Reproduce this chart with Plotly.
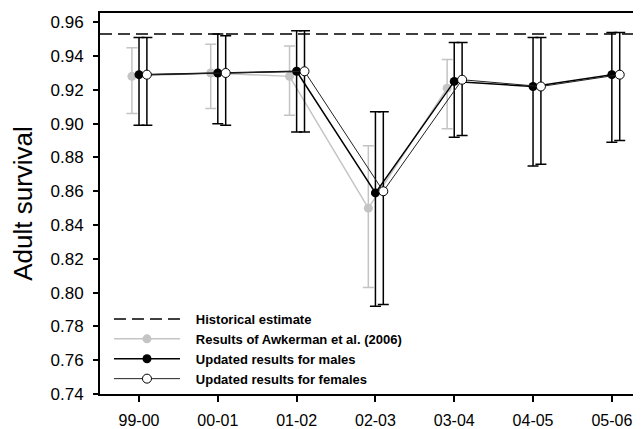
import plotly.graph_objects as go

years = ["99-00", "00-01", "01-02", "02-03", "03-04", "04-05", "05-06"]

hist_estimate = 0.953

# Awkerman et al. (2006): only first five seasons
awk_val = [0.928, 0.930, 0.928, 0.850, 0.921]
awk_hi = [0.945, 0.947, 0.946, 0.887, 0.938]
awk_lo = [0.906, 0.909, 0.905, 0.803, 0.897]

male_val = [0.929, 0.930, 0.931, 0.859, 0.925, 0.922, 0.929]
male_hi = [0.951, 0.953, 0.955, 0.907, 0.948, 0.951, 0.954]
male_lo = [0.899, 0.900, 0.895, 0.792, 0.892, 0.875, 0.889]

fem_val = [0.929, 0.930, 0.931, 0.860, 0.926, 0.922, 0.929]
fem_hi = [0.951, 0.952, 0.955, 0.907, 0.948, 0.951, 0.954]
fem_lo = [0.899, 0.899, 0.895, 0.793, 0.893, 0.876, 0.890]

FONT = "Liberation Sans, Arial, sans-serif"
PAD = "\u00a0\u00a0\u00a0"

def xs(n, off):
    return [i + off for i in range(n)]

fig = go.Figure()

# legend-only entry for historical estimate
fig.add_trace(go.Scatter(
    x=[None], y=[None], mode="lines", name=PAD + "Historical estimate",
    line=dict(color="black", width=1.5, dash="12px,6px")))

fig.add_trace(go.Scatter(
    x=xs(len(awk_val), -0.09), y=awk_val, mode="lines+markers",
    name=PAD + "Results of Awkerman et al. (2006)",
    line=dict(color="#c4c4c4", width=1.5),
    marker=dict(color="#c4c4c4", size=9, line=dict(width=0)),
    error_y=dict(type="data", symmetric=False,
                 array=[h - v for h, v in zip(awk_hi, awk_val)],
                 arrayminus=[v - l for l, v in zip(awk_lo, awk_val)],
                 color="#c4c4c4", thickness=1.5, width=5.5)))

fig.add_trace(go.Scatter(
    x=xs(len(male_val), 0.0), y=male_val, mode="lines+markers",
    name=PAD + "Updated results for males",
    line=dict(color="black", width=1.5),
    marker=dict(color="black", size=9, line=dict(width=0)),
    error_y=dict(type="data", symmetric=False,
                 array=[h - v for h, v in zip(male_hi, male_val)],
                 arrayminus=[v - l for l, v in zip(male_lo, male_val)],
                 color="black", thickness=1.5, width=5.5)))

fig.add_trace(go.Scatter(
    x=xs(len(fem_val), 0.1), y=fem_val, mode="lines+markers",
    name=PAD + "Updated results for females",
    line=dict(color="#222222", width=1),
    marker=dict(color="white", size=9, line=dict(color="black", width=1)),
    error_y=dict(type="data", symmetric=False,
                 array=[h - v for h, v in zip(fem_hi, fem_val)],
                 arrayminus=[v - l for l, v in zip(fem_lo, fem_val)],
                 color="black", thickness=1.5, width=5.5)))

fig.add_hline(y=hist_estimate, line=dict(color="black", width=1.5, dash="12px,6px"))

fig.update_layout(
    width=633, height=421,
    margin=dict(l=92, r=0, t=5, b=35, autoexpand=False),
    plot_bgcolor="white", paper_bgcolor="white",
    font=dict(family=FONT, color="black"),
    showlegend=True,
    legend=dict(x=0.0166, y=0.0, xanchor="left", yanchor="bottom",
                bgcolor="rgba(0,0,0,0)", itemwidth=66,
                font=dict(family=FONT, size=13, color="black", weight="bold"),
                tracegroupgap=0),
    xaxis=dict(range=[-0.495, 6.37], tickvals=list(range(len(years))), ticktext=years,
               automargin=False,
               showline=True, linecolor="black", linewidth=1.8, mirror=True,
               ticks="outside", ticklen=6, tickwidth=1.5, tickcolor="black",
               ticklabelstandoff=5,
               showgrid=False, zeroline=False, tickfont=dict(size=16, family=FONT)),
    yaxis=dict(range=[0.74, 0.9655], dtick=0.02, tickformat=".2f",
               automargin=False,
               showline=True, linecolor="black", linewidth=1.8,
               ticks="outside", ticklen=5, tickwidth=1.5, tickcolor="black",
               ticklabelstandoff=6,
               showgrid=False, zeroline=False, tickfont=dict(size=17, family=FONT),
               title=dict(text="Adult survival", font=dict(size=26, family=FONT), standoff=14)),
)

fig.write_html("out.html")
